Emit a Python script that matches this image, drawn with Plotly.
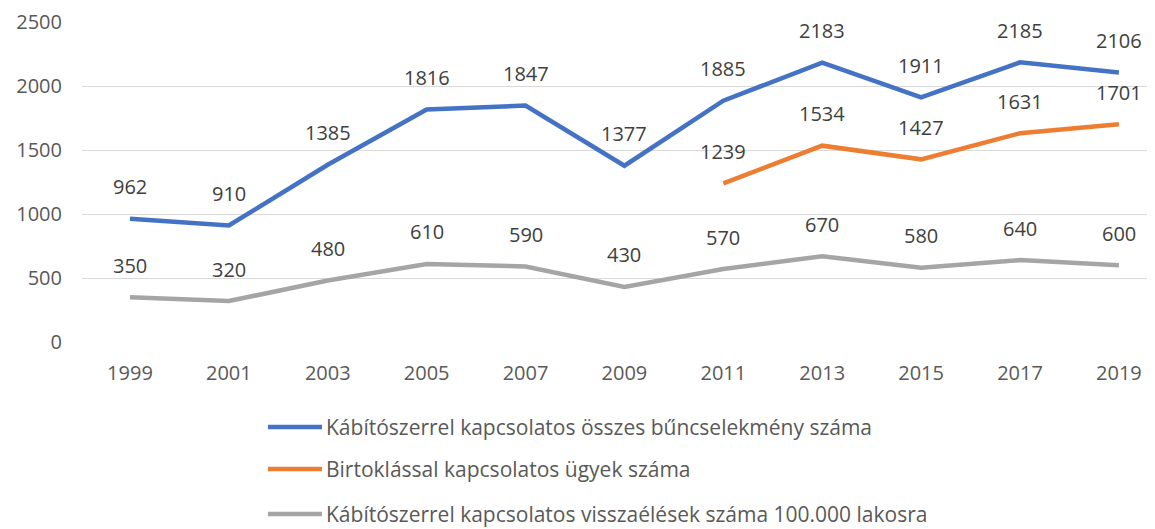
import plotly.graph_objects as go

years = [1999, 2001, 2003, 2005, 2007, 2009, 2011, 2013, 2015, 2017, 2019]
osszes = [962, 910, 1385, 1816, 1847, 1377, 1885, 2183, 1911, 2185, 2106]
birtoklas = [None, None, None, None, None, None, 1239, 1534, 1427, 1631, 1701]
lakosra = [350, 320, 480, 610, 590, 430, 570, 670, 580, 640, 600]

names = [
    "Kábítószerrel kapcsolatos összes bűncselekmény száma",
    "Birtoklással kapcsolatos ügyek száma",
    "Kábítószerrel kapcsolatos visszaélések száma 100.000 lakosra",
]
colors = ["#4472C4", "#ED7D31", "#A5A5A5"]
series = [osszes, birtoklas, lakosra]

FONT = "Open Sans"
TXT = "#595959"

# page body has an 8px margin, so the figure is a bit smaller than the window
W, H = 1147, 521
# plot area in figure pixels (used to place the hand-made legend)
L, R, T, B = 74, 1147, 14, 334
def px_x(p):
    return (p - L) / (R - L)
def px_y(p):
    return (B - p) / (B - T)

fig = go.Figure()
for i, (name, vals, col) in enumerate(zip(names, series, colors)):
    fig.add_trace(go.Scatter(
        x=years, y=vals, name=name, mode="lines",
        line=dict(color=col, width=4.5),
        connectgaps=False, cliponaxis=False, showlegend=False,
    ))
    # data labels above each point
    for x, v in zip(years, vals):
        if v is None:
            continue
        fig.add_annotation(
            x=x, y=v, text=str(v), showarrow=False,
            yanchor="middle", yshift=32,
            font=dict(family=FONT, size=20, color="#404040"),
        )

# legend below the chart, one entry per row
legend_rows = [419, 461, 506]
for name, col, py in zip(names, colors, legend_rows):
    fig.add_shape(
        type="line", xref="paper", yref="paper",
        x0=px_x(260), x1=px_x(314), y0=px_y(py), y1=px_y(py),
        line=dict(color=col, width=4.5),
    )
    fig.add_annotation(
        xref="paper", yref="paper", x=px_x(316), y=px_y(py),
        text=name, showarrow=False, xanchor="left", yanchor="middle",
        font=dict(family=FONT, size=21, color=TXT),
    )

fig.update_layout(
    width=W, height=H,
    margin=dict(l=L, r=W - R, t=T, b=H - B),
    plot_bgcolor="white", paper_bgcolor="white",
    font=dict(family=FONT, size=20, color=TXT),
    showlegend=False,
    xaxis=dict(
        range=[1998.03, 2019.73], tickvals=years, ticktext=[str(y) for y in years],
        showgrid=False, zeroline=False, showline=False, ticks="",
        ticklabelstandoff=17,
        tickfont=dict(family=FONT, size=20, color=TXT),
    ),
    yaxis=dict(
        range=[0, 2500], tickvals=[0, 500, 1000, 1500, 2000, 2500],
        showgrid=True, gridcolor="#D9D9D9", gridwidth=1.3,
        zeroline=False, showline=False, ticks="", ticklabelstandoff=19,
        tickfont=dict(family=FONT, size=20, color=TXT),
    ),
)

fig.write_html("out.html")
